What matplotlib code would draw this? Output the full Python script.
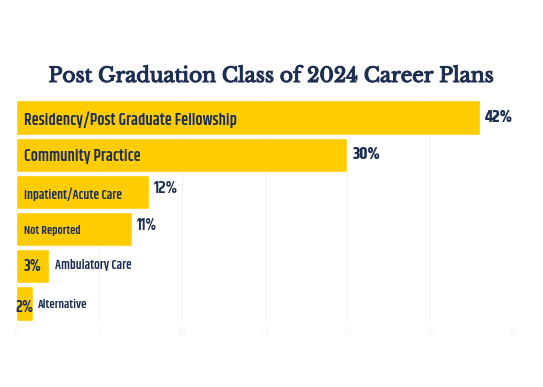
import matplotlib
matplotlib.use("Agg")
import matplotlib.pyplot as plt
import matplotlib.patheffects as pe

categories = ["Residency/Post Graduate Fellowship", "Community Practice",
              "Inpatient/Acute Care", "Not Reported", "Ambulatory Care", "Alternative"]
counts = [28, 20, 8, 7, 2, 1]
pct_labels = ["42%", "30%", "12%", "11%", "3%", "2%"]
ticks = [0, 5, 10, 15, 20, 25, 30]

navy = "#1c2e52"
gold = "#FFCC00"
cond = ["Khand", "DejaVu Sans"]
serif = ["Libre Baskerville", "DejaVu Serif"]

fig = plt.figure(figsize=(5.43, 3.87), dpi=100)
ax = fig.add_axes([16/543, 1 - 322/387, (513-16)/543, (322-99)/387])

ypos = list(range(len(categories)))
ax.barh(ypos, counts, height=0.92, color=gold, edgecolor="white", linewidth=1, zorder=2)
ax.set_ylim(len(categories) - 0.5, -0.5)
ax.set_xlim(0, 30)
ax.set_xticks(ticks)
ax.set_xticklabels([str(t) for t in ticks], color="#f5f5f5", fontsize=6)
ax.set_yticks([])
ax.tick_params(axis="x", length=0, pad=4)
ax.grid(axis="x", color="#f0f0f0", linewidth=0.8, zorder=0)
for s in ax.spines.values():
    s.set_visible(False)

inside_sizes = [11.6, 11.6, 9.3, 8.6]
for i in range(4):
    ax.text(0.5, ypos[i] + 0.05, categories[i], va="center", ha="left",
            fontsize=inside_sizes[i], color=navy, family=cond, fontweight=600, zorder=3)
    ax.text(counts[i] + 0.3, ypos[i] - (0.1 if i >= 2 else 0.02), pct_labels[i], va="center", ha="left",
            fontsize=12.5 if i < 3 else 11.5, color=navy, family=cond,
            fontweight=700 if i < 2 else 600, zorder=3)

# small bars: value first, then category
ax.text(0.45, ypos[4] + 0.02, pct_labels[4], va="center", ha="left", fontsize=12,
        color=navy, family=cond, fontweight=600, zorder=3)
ax.text(2.35, ypos[4] - 0.03, categories[4], va="center", ha="left", fontsize=9.2,
        color=navy, family=cond, fontweight=600, zorder=3)
ax.text(-0.05, ypos[5] + 0.1, pct_labels[5], va="center", ha="left", fontsize=12,
        color=navy, family=cond, fontweight=600, zorder=3, clip_on=False)
ax.text(1.35, ypos[5] + 0.03, categories[5], va="center", ha="left", fontsize=8.8,
        color=navy, family=cond, fontweight=600, zorder=3)

fig.text(0.5, 1 - 76/387, "Post Graduation Class of 2024 Career Plans", ha="center", va="center",
         fontsize=14.5, color=navy, family=serif,
         path_effects=[pe.withStroke(linewidth=0.8, foreground=navy)])

fig.savefig("out.png", dpi=100, facecolor="white")
